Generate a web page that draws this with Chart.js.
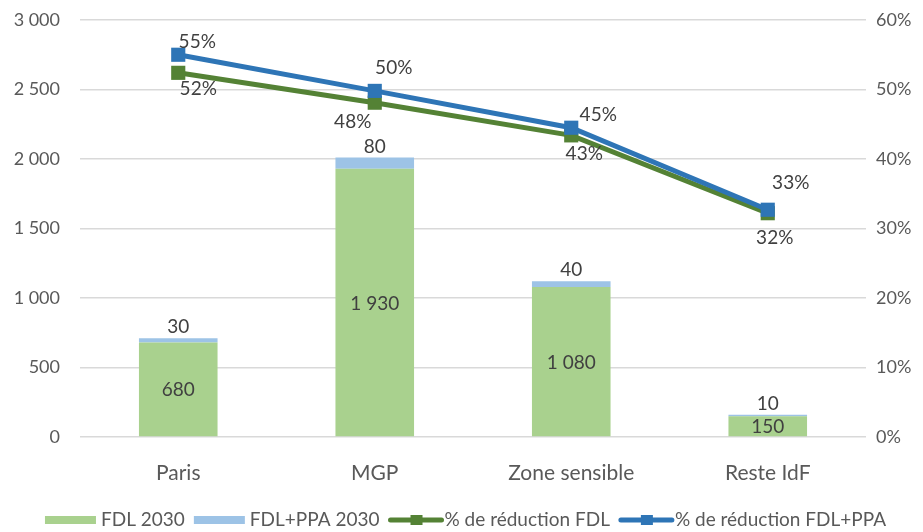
<!DOCTYPE html>
<html>
<head>
<meta charset="utf-8">
<script src="https://cdn.jsdelivr.net/npm/chart.js@4.4.1/dist/chart.umd.min.js"></script>
<style>
  html, body { margin: 0; padding: 0; background: #fff; }
  #wrap { width: 923px; height: 532px; }
</style>
</head>
<body>
<div id="wrap"><canvas id="myChart" width="923" height="532"></canvas></div>
<script>
// données
var categories = ['Paris', 'MGP', 'Zone sensible', 'Reste IdF'];
var fdl2030 = [680, 1930, 1080, 150];
var fdlPpa2030 = [30, 80, 40, 10];
var reductionFdl = [52.4, 48.1, 43.4, 32.2];
var reductionFdlPpa = [55.0, 49.8, 44.5, 32.7];
var reductionFdlLabels = ['52%', '48%', '43%', '32%'];
var reductionFdlPpaLabels = ['55%', '50%', '45%', '33%'];
var leftTicks = [0, 500, 1000, 1500, 2000, 2500, 3000];
var rightTicks = [0, 10, 20, 30, 40, 50, 60];

var FONT = 'Lato, "Open Sans", sans-serif';
var GREEN_BAR = '#a9d18e', BLUE_BAR = '#9dc3e6';
var GREEN_LINE = '#548235', BLUE_LINE = '#2e75b6';

function fmt(n) {
    return String(n).replace(/\B(?=(\d{3})+(?!\d))/g, ' ');
}

// étiquettes des courbes (décalages comme dans Excel)
var lineOffsets = {
    blue: [[19, -13], [19, -23], [27, -13], [23, -27]],
    green: [[20, 16], [-22, 19], [13, 19], [7, 25]]
};

var labelPlugin = {
    id: 'labels',
    afterDatasetsDraw: function (chart) {
        var ctx = chart.ctx;
        ctx.save();
        ctx.font = '19px ' + FONT;
        ctx.fillStyle = '#404040';
        ctx.textAlign = 'center';
        ctx.textBaseline = 'middle';

        var greenMeta = chart.getDatasetMeta(0);
        var blueMeta = chart.getDatasetMeta(1);
        greenMeta.data.forEach(function (bar, i) {
            var y = (bar.y + bar.base) / 2;
            ctx.fillText(fmt(fdl2030[i]), bar.x, y + 1);
        });
        blueMeta.data.forEach(function (bar, i) {
            var h = bar.base - bar.y;
            var y = h > 18 ? (bar.y + bar.base) / 2 + 1 : bar.y - 11;
            ctx.fillText(fmt(fdlPpa2030[i]), bar.x, y);
        });

        var gl = chart.getDatasetMeta(2);
        var bl = chart.getDatasetMeta(3);
        gl.data.forEach(function (p, i) {
            ctx.fillText(reductionFdlLabels[i], p.x + lineOffsets.green[i][0], p.y + lineOffsets.green[i][1]);
        });
        bl.data.forEach(function (p, i) {
            ctx.fillText(reductionFdlPpaLabels[i], p.x + lineOffsets.blue[i][0], p.y + lineOffsets.blue[i][1]);
        });
        ctx.restore();
    }
};

// légende dessinée à la main
var legendPlugin = {
    id: 'myLegend',
    afterDraw: function (chart) {
        var ctx = chart.ctx;
        ctx.save();
        ctx.font = '19px ' + FONT;
        ctx.textBaseline = 'middle';
        ctx.textAlign = 'left';
        var y = 520;
        var items = [
            { type: 'box', color: GREEN_BAR, text: 'FDL 2030' },
            { type: 'box', color: BLUE_BAR, text: 'FDL+PPA 2030' },
            { type: 'line', color: GREEN_LINE, text: '% de réduction FDL' },
            { type: 'line', color: BLUE_LINE, text: '% de réduction FDL+PPA' }
        ];
        var total = 0;
        items.forEach(function (it) { total += 51 + 5 + ctx.measureText(it.text).width + 9; });
        var x = (chart.width - total + 9) / 2 + 4;
        items.forEach(function (it) {
            if (it.type === 'box') {
                ctx.fillStyle = it.color;
                ctx.fillRect(x, y - 4, 51, 8);
            } else {
                ctx.strokeStyle = it.color;
                ctx.lineWidth = 5;
                ctx.lineCap = 'round';
                ctx.beginPath();
                ctx.moveTo(x + 2, y);
                ctx.lineTo(x + 53, y);
                ctx.stroke();
                ctx.fillStyle = it.color;
                ctx.fillRect(x + 22, y - 5, 12, 10);
            }
            x += 51 + 5;
            ctx.fillStyle = '#595959';
            ctx.fillText(it.text, x, y);
            x += ctx.measureText(it.text).width + 9;
        });
        ctx.restore();
    }
};

function noPad(s) { s.paddingTop = 0; s.paddingBottom = 0; }

new Chart(document.getElementById('myChart').getContext('2d'), {
    type: 'bar',
    data: {
        labels: categories,
        datasets: [{
            label: 'FDL 2030',
            data: fdl2030,
            backgroundColor: GREEN_BAR,
            yAxisID: 'y',
            stack: 's',
            order: 3,
            categoryPercentage: 1,
            barPercentage: 0.4
        }, {
            label: 'FDL+PPA 2030',
            data: fdlPpa2030,
            backgroundColor: BLUE_BAR,
            yAxisID: 'y',
            stack: 's',
            order: 4,
            categoryPercentage: 1,
            barPercentage: 0.4
        }, {
            type: 'line',
            label: '% de réduction FDL',
            data: reductionFdl,
            borderColor: GREEN_LINE,
            backgroundColor: GREEN_LINE,
            borderWidth: 5,
            pointStyle: 'rect',
            pointRadius: 10,
            pointBorderWidth: 0,
            yAxisID: 'y2',
            order: 2
        }, {
            type: 'line',
            label: '% de réduction FDL+PPA',
            data: reductionFdlPpa,
            borderColor: BLUE_LINE,
            backgroundColor: BLUE_LINE,
            borderWidth: 5,
            pointStyle: 'rect',
            pointRadius: 10,
            pointBorderWidth: 0,
            yAxisID: 'y2',
            order: 1
        }]
    },
    options: {
        responsive: false,
        animation: false,
        layout: { padding: { top: 20, bottom: 44, left: 0, right: 0 } },
        plugins: {
            legend: { display: false },
            tooltip: { enabled: false }
        },
        scales: {
            x: {
                stacked: true,
                grid: { display: false },
                border: { display: false },
                ticks: { color: '#595959', font: { family: FONT, size: 21 }, padding: 16 },
                afterFit: function (s) { s.height = 51; }
            },
            y: {
                stacked: true,
                position: 'left',
                min: 0, max: 3000,
                afterBuildTicks: function (s) { s.ticks = leftTicks.map(function (v) { return { value: v }; }); },
                grid: { color: '#d9d9d9', lineWidth: 1.5, drawTicks: false },
                border: { display: false },
                ticks: {
                    color: '#595959', font: { family: FONT, size: 18 }, padding: 20,
                    callback: function (v) { return fmt(v); }
                },
                afterFit: function (s) { s.width = 80; noPad(s); }
            },
            y2: {
                position: 'right',
                min: 0, max: 60,
                afterBuildTicks: function (s) { s.ticks = rightTicks.map(function (v) { return { value: v }; }); },
                grid: { display: false, drawTicks: false },
                border: { display: false },
                ticks: {
                    color: '#595959', font: { family: FONT, size: 18 }, padding: 10,
                    callback: function (v) { return v + '%'; }
                },
                afterFit: function (s) { s.width = 57; noPad(s); }
            }
        }
    },
    plugins: [labelPlugin, legendPlugin]
});
</script>
</body>
</html>
